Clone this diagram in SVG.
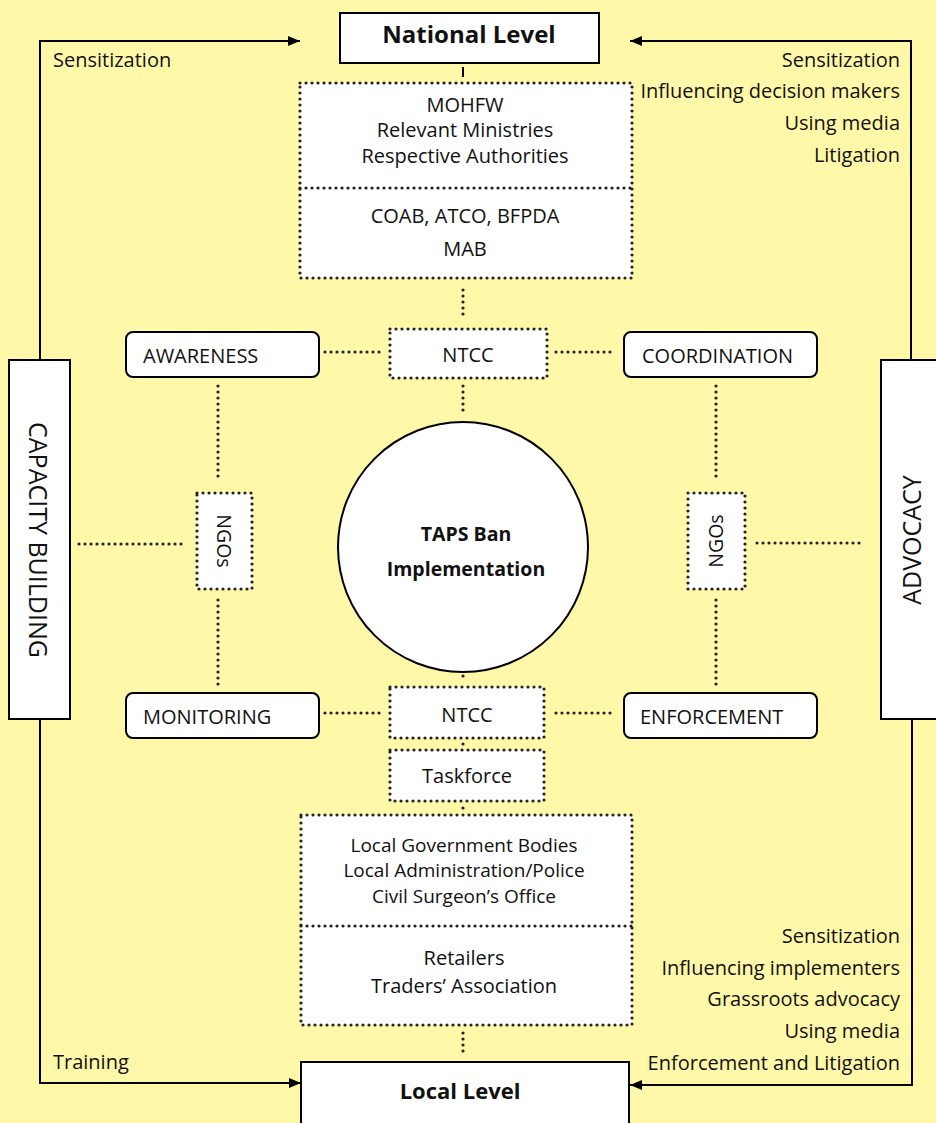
<svg xmlns="http://www.w3.org/2000/svg" width="936" height="1123" viewBox="0 0 936 1123">
<defs>
<marker id="ah" viewBox="0 0 12 10" refX="12" refY="5" markerWidth="12" markerHeight="10" markerUnits="userSpaceOnUse" orient="auto">
<path d="M0,0 L12,5 L0,10 Z" fill="#000"/>
</marker>
</defs>
<style>
text{font-family:"Open Sans",Lato,"Liberation Sans",sans-serif;fill:#111;font-size:20px}
.c{text-anchor:middle}
.r{text-anchor:end}
.b{font-weight:bold}
.nat{font-size:24px}
.loc{font-size:22px}
.mid{font-size:19.5px}
.ngo{font-size:19.5px}
.tight{font-size:19px}
.side{font-size:25px}
.dot{fill:#fff;stroke:#222;stroke-width:3.2;stroke-linecap:round;stroke-dasharray:0 6}
.dl{fill:none;stroke:#222;stroke-width:3.2;stroke-linecap:round;stroke-dasharray:0 6}
.solid{fill:#fff;stroke:#000;stroke-width:2}
.ln{fill:none;stroke:#000;stroke-width:2}
</style>
<rect width="936" height="1123" fill="#FFF8A8"/>

<g id="connectors">
<path class="ln" d="M40,360 V41 H300" marker-end="url(#ah)"/>
<path class="ln" d="M911,360 V41 H630" marker-end="url(#ah)"/>
<path class="ln" d="M40,719 V1083 H301" marker-end="url(#ah)"/>
<path class="ln" d="M912,719 V1085 H630" marker-end="url(#ah)"/>
<line class="ln" x1="463" y1="67" x2="463" y2="77"/>
<line class="dl" x1="463" y1="290" x2="463" y2="320"/>
<line class="dl" x1="463" y1="386" x2="463" y2="414"/>
<line class="dl" x1="325" y1="352" x2="385" y2="352"/>
<line class="dl" x1="556" y1="352" x2="616" y2="352"/>
<line class="dl" x1="218" y1="386" x2="218" y2="482"/>
<line class="dl" x1="218" y1="600" x2="218" y2="686"/>
<line class="dl" x1="716" y1="386" x2="716" y2="482"/>
<line class="dl" x1="716" y1="600" x2="716" y2="686"/>
<line class="dl" x1="79" y1="544" x2="185" y2="544"/>
<line class="dl" x1="757" y1="543" x2="860" y2="543"/>
<line class="dl" x1="463" y1="676" x2="463" y2="682"/>
<line class="dl" x1="325" y1="713" x2="385" y2="713"/>
<line class="dl" x1="556" y1="713" x2="616" y2="713"/>
<line class="dl" x1="463" y1="744" x2="463" y2="744"/>
<line class="dl" x1="463" y1="808" x2="463" y2="808"/>
<line class="dl" x1="463" y1="1033" x2="463" y2="1055"/>
</g>

<g id="national">
<rect class="solid" x="340" y="13" width="259" height="50"/>
<text class="c b nat" x="469" y="43">National Level</text>
</g>

<g id="national-bodies">
<rect class="dot" x="300" y="83" width="332" height="195"/>
<line class="dl" x1="300" y1="188" x2="632" y2="188"/>
<text class="c" x="465" y="112">MOHFW</text>
<text class="c" x="465" y="137">Relevant Ministries</text>
<text class="c" x="465" y="163">Respective Authorities</text>
<text class="c" x="465" y="223">COAB, ATCO, BFPDA</text>
<text class="c" x="465" y="256">MAB</text>
</g>

<g id="ntcc-top">
<rect class="dot" x="390" y="329" width="157" height="49"/>
<text class="c" x="468" y="362">NTCC</text>
</g>

<g id="awareness">
<rect class="solid" x="126" y="332" width="193" height="45" rx="7"/>
<text x="143" y="363">AWARENESS</text>
</g>

<g id="coordination">
<rect class="solid" x="624" y="332" width="193" height="45" rx="7"/>
<text x="642" y="363">COORDINATION</text>
</g>

<g id="monitoring">
<rect class="solid" x="126" y="693" width="193" height="45" rx="7"/>
<text x="143" y="724">MONITORING</text>
</g>

<g id="enforcement">
<rect class="solid" x="624" y="693" width="193" height="45" rx="7"/>
<text x="640" y="724">ENFORCEMENT</text>
</g>

<g id="taps">
<circle class="solid" cx="463" cy="547" r="125"/>
<text class="c b mid" x="466" y="541">TAPS Ban</text>
<text class="c b mid" x="466" y="576">Implementation</text>
</g>

<g id="ngos-left">
<rect class="dot" x="197" y="493" width="55" height="96"/>
<text class="c ngo" transform="translate(224,541) rotate(90)" y="7">NGOs</text>
</g>

<g id="ngos-right">
<rect class="dot" x="688" y="493" width="57" height="96"/>
<text class="c ngo" transform="translate(716,541) rotate(-90)" y="7">NGOs</text>
</g>

<g id="capacity">
<rect class="solid" x="9" y="360" width="61" height="359"/>
<text class="c side" transform="translate(38,540) rotate(90)" y="9">CAPACITY BUILDING</text>
</g>

<g id="advocacy">
<rect class="solid" x="881" y="360" width="60" height="359"/>
<text class="c side" transform="translate(912,540) rotate(-90)" y="9">ADVOCACY</text>
</g>

<g id="ntcc-bottom">
<rect class="dot" x="390" y="687" width="154" height="51"/>
<text class="c" x="467" y="722">NTCC</text>
</g>

<g id="taskforce">
<rect class="dot" x="390" y="750" width="154" height="51"/>
<text class="c" x="467" y="783">Taskforce</text>
</g>

<g id="local-bodies">
<rect class="dot" x="301" y="815" width="331" height="210"/>
<line class="dl" x1="301" y1="926" x2="632" y2="926"/>
<text class="c tight" x="464" y="852">Local Government Bodies</text>
<text class="c tight" x="464" y="877">Local Administration/Police</text>
<text class="c tight" x="464" y="903">Civil Surgeon’s Office</text>
<text class="c" x="464" y="965">Retailers</text>
<text class="c" x="464" y="993">Traders’ Association</text>
</g>

<g id="local">
<rect class="solid" x="301" y="1062" width="328" height="80"/>
<text class="c b loc" x="460" y="1099">Local Level</text>
</g>

<g id="labels">
<text x="53" y="67">Sensitization</text>
<text class="r" x="900" y="67">Sensitization</text>
<text class="r" x="900" y="98">Influencing decision makers</text>
<text class="r" x="900" y="130">Using media</text>
<text class="r" x="900" y="162">Litigation</text>
<text x="53" y="1069">Training</text>
<text class="r" x="900" y="943">Sensitization</text>
<text class="r" x="900" y="975">Influencing implementers</text>
<text class="r" x="900" y="1006">Grassroots advocacy</text>
<text class="r" x="900" y="1038">Using media</text>
<text class="r" x="900" y="1070">Enforcement and Litigation</text>
</g>
</svg>
